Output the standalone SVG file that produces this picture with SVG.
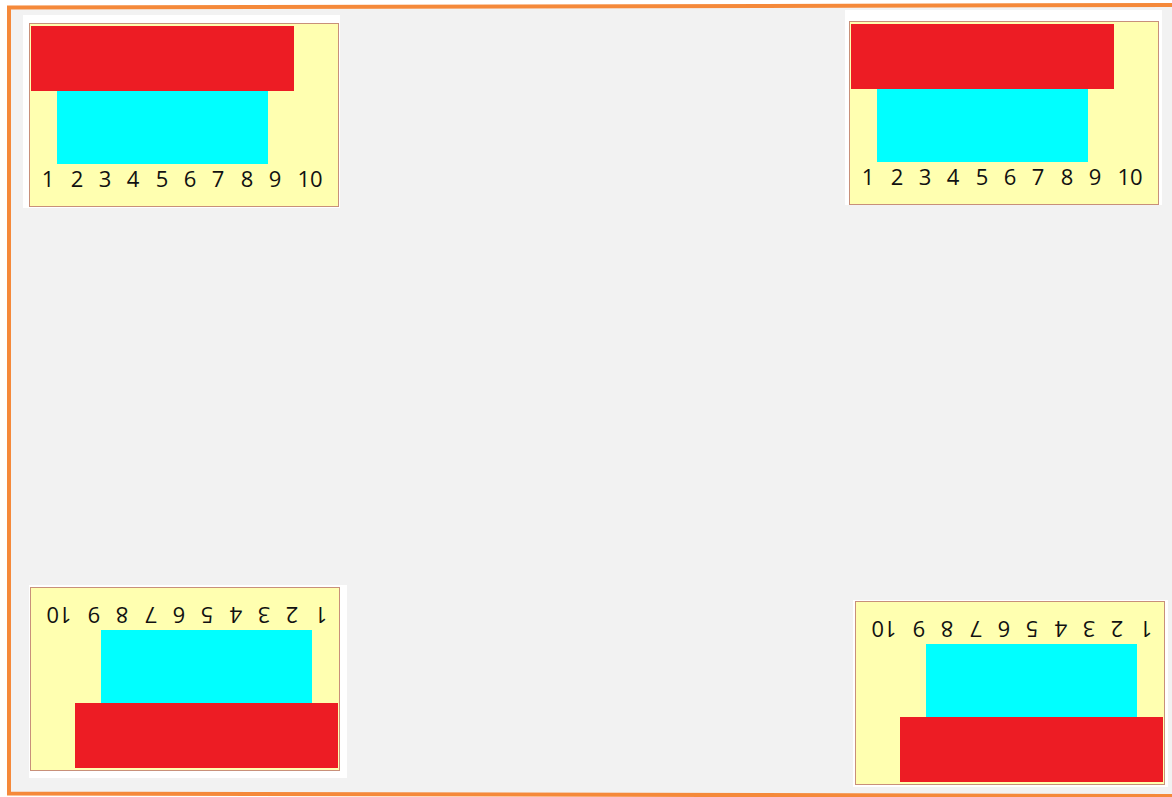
<svg xmlns="http://www.w3.org/2000/svg" width="1172" height="797" viewBox="0 0 1172 797">
  <style>
    .back { fill: #ffffff; }
    .panel { fill: #ffffb0; stroke: #c8907a; stroke-width: 1; }
    .red { fill: #ed1c24; }
    .cyan { fill: #00ffff; }
    .num { font-family: "Open Sans", "Noto Sans", sans-serif; font-size: 22px; fill: #111111; text-anchor: middle; }
  </style>
  <defs>
    <g id="chart">
      <rect class="panel" x="0.5" y="0.5" width="309" height="183"/>
      <rect class="red" x="2" y="3" width="263" height="65"/>
      <rect class="cyan" x="28" y="68" width="211" height="73"/>
      <g class="num">
        <text x="19" y="164">1</text>
        <text x="48" y="164">2</text>
        <text x="76" y="164">3</text>
        <text x="104" y="164">4</text>
        <text x="133" y="164">5</text>
        <text x="161" y="164">6</text>
        <text x="189" y="164">7</text>
        <text x="218" y="164">8</text>
        <text x="246" y="164">9</text>
        <text x="281" y="164">10</text>
      </g>
    </g>
  </defs>
  <rect x="0" y="0" width="1172" height="797" fill="#ffffff"/>
  <path d="M9,7.5 L1175,5 L1175,796 L9,793.5 Z" fill="#f2f2f2" stroke="#f5893a" stroke-width="4"/>

  <g id="panel-top-left">
    <rect class="back" x="23" y="15" width="317" height="193"/>
    <use href="#chart" transform="translate(29,23)"/>
  </g>
  <g id="panel-top-right">
    <rect class="back" x="845" y="10" width="317" height="195"/>
    <use href="#chart" transform="translate(849,21)"/>
  </g>
  <g id="panel-bottom-left">
    <rect class="back" x="29" y="585" width="318" height="193"/>
    <use href="#chart" transform="translate(340,771) rotate(180)"/>
  </g>
  <g id="panel-bottom-right">
    <rect class="back" x="853" y="600" width="315" height="187"/>
    <use href="#chart" transform="translate(1165,785) rotate(180)"/>
  </g>
  <g id="connectors"/>
</svg>
